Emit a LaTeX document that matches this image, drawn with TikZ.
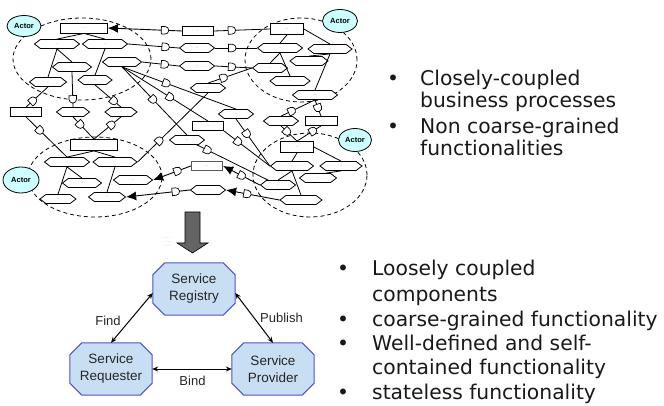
\documentclass[tikz,border=0pt]{standalone}
\usepackage{fontspec}
\setmainfont{Liberation Sans}
\newfontfamily\bulletfont{DejaVu Sans}
\usetikzlibrary{shapes.geometric,shapes.symbols,shapes.misc,arrows.meta,backgrounds,calc}
\definecolor{actorfill}{RGB}{204,255,255}
\definecolor{octfill}{RGB}{200,222,242}
\definecolor{octline}{RGB}{80,80,210}
\definecolor{blockgray}{RGB}{100,100,100}
\newcommand{\octoframe}[1]{%
  \filldraw[fill=octfill,draw=octline,line width=1pt]
    ([xshift=12pt]#1.north west) -- ([xshift=-12pt]#1.north east) --
    ([yshift=-12pt]#1.north east) -- ([yshift=12pt]#1.south east) --
    ([xshift=-12pt]#1.south east) -- ([xshift=12pt]#1.south west) --
    ([yshift=12pt]#1.south west) -- ([yshift=-12pt]#1.north west) -- cycle;}
\begin{document}
\begin{tikzpicture}[x=1pt,y=-1pt,
  every node/.style={inner sep=0pt},
  lnk/.style={line width=0.8pt},
  arr/.style={line width=0.9pt,-{Latex[length=10pt,width=9pt]}},
  hexb/.style={signal, signal to=east and west, signal pointer angle=75, draw, fill=white,
    line width=0.8pt, minimum height=9, minimum width=#1,
    font=\fontsize{3.5}{4}\selectfont, text=gray},
  boxb/.style={rectangle, draw, fill=white, line width=0.8pt, minimum height=10,
    minimum width=#1, font=\fontsize{3.5}{4}\selectfont, text=gray},
  dsym/.style={rounded rectangle, rounded rectangle left arc=none, draw, fill=white,
    line width=0.7pt, minimum width=7, minimum height=7.5, sloped},
  actor/.style={ellipse, draw, fill=actorfill, line width=0.8pt,
    font=\bfseries\fontsize{7.5}{8}\selectfont},
  clus/.style={line width=0.8pt, dash pattern=on 4pt off 3pt},
  octnode/.style={minimum width=82, minimum height=52, align=center,
    font=\fontsize{13.5}{17}\selectfont, text=black!85},
  twoarr/.style={line width=1pt,{Stealth[length=6pt,width=5pt]}-{Stealth[length=6pt,width=5pt]}},
  lbl/.style={font=\fontsize{13}{15}\selectfont, text=black!85},
  bul/.style={font=\bulletfont\fontsize{20.3}{22}\selectfont, text=black!90, anchor=base west},
  dot/.style={font=\bulletfont\fontsize{20.3}{22}\selectfont, text=black!90, anchor=base}
]
\useasboundingbox (0,0) rectangle (664,406);

% dashed clusters
\draw[clus] (82,59) ellipse [x radius=69pt, y radius=41pt];
\draw[clus] (301,60) ellipse [x radius=56pt, y radius=42pt];
\draw[clus] (95,177) ellipse [x radius=67pt, y radius=40pt];
\draw[clus] (310,175) ellipse [x radius=57pt, y radius=42pt];

% actors
\node[actor, minimum width=34, minimum height=21] (actTL) at (24,26) {Actor};
\node[actor, minimum width=35, minimum height=23] (actTR) at (340,21) {Actor};
\node[actor, minimum width=36, minimum height=26] (actBL) at (21,180) {Actor};
\node[actor, minimum width=33, minimum height=23] (actBR) at (355,140) {Actor};

% top-left cluster
\node[boxb=47] (rTL) at (84,28) {...};
\node[hexb=45] (h1) at (57,44) {...};
\node[hexb=45] (h2) at (105,44) {...};
\node[hexb=39] (h3) at (72,67) {...};
\node[hexb=39] (h4) at (122,62) {...};
\node[hexb=37] (h5) at (48,82) {...};
\node[hexb=34] (h6) at (95,80) {...};

% middle-left row
\node[boxb=31, minimum height=9] (rM1) at (26,112) {...};
\node[hexb=33] (hM2) at (73,112) {...};
\node[hexb=32] (hM3) at (121,112) {...};

% top rows
\node[boxb=31, minimum height=9] (rT) at (198,31) {...};
\node[hexb=35] (hR2) at (197,48) {...};
\node[hexb=35] (hR3) at (197,66) {...};

% centre
\node[hexb=35] (hC1) at (208,88) {...};
\node[hexb=35] (hC2) at (236,114) {...};
\node[boxb=31, minimum height=9] (rC3) at (208,126) {...};
\node[hexb=35] (hC4) at (187,140) {...};
\node[boxb=31, minimum height=9, draw=black!65, line width=1.3pt] (rC5) at (207,166) {...};
\node[hexb=35] (hC6) at (208,190) {...};

% top-right cluster
\node[boxb=33, minimum height=11] (rTR) at (287,29) {...};
\node[hexb=45] (hA) at (280,48) {...};
\node[hexb=44] (hB) at (330,49) {...};
\node[hexb=38] (hC) at (309,61) {...};
\node[hexb=35] (hD) at (270,68) {...};
\node[hexb=40] (hE) at (290,81) {...};
\node[hexb=45] (hF) at (315,95) {...};

% middle-right row
\node[hexb=35] (hM4) at (281,121) {...};
\node[boxb=32, minimum height=9] (rM5) at (321,121) {...};

% bottom-right cluster
\node[boxb=33, minimum height=11] (rBR) at (297,147) {...};
\node[hexb=43] (hP) at (292,166) {...};
\node[hexb=42] (hQ) at (341,166) {...};
\node[hexb=37] (hR) at (318,178) {...};
\node[hexb=35] (hS) at (278,185) {...};
\node[hexb=42] (hT) at (301,200) {...};

% bottom-left cluster
\node[boxb=47, minimum height=11] (rBL) at (94,145) {...};
\node[hexb=45] (hBL1) at (67,162) {...};
\node[hexb=44] (hBL2) at (115,162) {...};
\node[hexb=39] (hBL3) at (82,183) {...};
\node[hexb=39] (hBL4) at (133,180) {...};
\node[hexb=36] (hBL5) at (58,199) {...};
\node[hexb=37] (hBL6) at (107,197) {...};

% cluster-internal links
\draw[lnk] (rTL.south) -- (h1.north);
\draw[lnk] (rTL.south) -- (h2.north);
\draw[lnk] (h1.south) -- (h5.north);
\draw[lnk] (h1.south) -- (h3.north);
\draw[lnk] (h2.south) -- (h6.north);

\draw[lnk] (rTR.south) -- (hA.north);
\draw[lnk] (rTR.east) -- (hB.north);
\draw[lnk] (hA.south) -- (hD.north);
\draw[lnk] (hA.south) -- (hE.north);
\draw[lnk] (hB.south) -- (hC.north);
\draw[lnk] (hB.south) -- (hF.north);

\draw[lnk] (rBR.south) -- (hP.north);
\draw[lnk] (rBR.east) -- (hQ.north);
\draw[lnk] (hP.south) -- (hT.north);
\draw[lnk] (hP.south) -- (hS.north);
\draw[lnk] (hQ.south) -- ([xshift=8pt]hR.north);

\draw[lnk] (rBL.south) -- (hBL1.north);
\draw[lnk] (rBL.south) -- (hBL2.north);
\draw[lnk] (hBL1.south) -- (hBL3.north);
\draw[lnk] (hBL1.south) -- (hBL5.north);
\draw[lnk] (hBL2.south) -- (hBL6.north);

% links with interface symbols
\draw[lnk] (h5.south) -- node[dsym,pos=0.68] (d6) {} (rM1.north);
\draw[lnk] (h3.south) -- node[dsym,pos=0.78] (d7) {} (hM2.north);
\draw[lnk] (h6.south) -- node[dsym,pos=0.73] (d8) {} (hM3.north);
\draw[lnk] (rM1.south) -- node[dsym,pos=0.34] (d9) {} (hBL1.north);
\draw[lnk] (hM2.south) -- node[dsym,pos=0.35] (d10) {} (rBL.north);
\draw[lnk] (hM3.south) -- node[dsym,pos=0.35] (d11) {} (rBL.north);

\draw[arr] (rT.west) -- node[dsym,pos=0.23] (d12) {} (rTL.east);
\draw[lnk] (rTR.west) -- node[dsym,pos=0.68] (d13) {} (rT.east);
\draw[lnk] (h2.east) -- node[dsym,pos=0.74] (d14) {} (hR2.west);
\draw[lnk] (hR2.east) -- node[dsym,pos=0.41] (d15) {} (hA.west);
\draw[lnk] (h4.east) -- node[dsym,pos=0.62] (d16) {} (hR3.west);
\draw[lnk] (hR3.east) -- node[dsym,pos=0.46] (d17) {} (hD.west);

\draw[lnk] (hF.south) -- node[dsym,pos=0.68] (d24) {} (hM4.north);
\draw[lnk] (hF.south) -- node[dsym,pos=0.5] (d25) {} (rM5.north);
\draw[lnk] (hM4.south) -- node[dsym,pos=0.38] (d26) {} (rBR.north);
\draw[lnk] (rM5.south) -- node[dsym,pos=0.33] (d27) {} (rBR.north);

\draw[arr] (hS.west) -- node[dsym,pos=0.49] (d38) {} (rC5.east);
\draw[arr] (rC5.west) -- node[dsym,pos=0.35] (d39) {} (hBL4.east);
\draw[arr] (hT.west) -- node[dsym,pos=0.6] (d40) {} (hC6.east);
\draw[arr] (hC6.west) -- node[dsym,pos=0.22] (d41) {} (hBL6.east);

\draw[lnk] (h4.south) -- node[dsym,pos=0.39] (d42) {} (hC2.north);
\draw[lnk] (h4.south) -- node[dsym,pos=0.56] (d43) {} (rC3.north);
\draw[lnk] (h4.south) -- node[dsym,pos=0.48] (d44) {} (hC4.north);
\draw[lnk] (hD.west) -- node[dsym,pos=0.64] (d45) {} (hC1.north);
\draw[lnk] (hC1.south) -- node[dsym,pos=0.69] (d46) {} (hBL2.east);
\draw[lnk] (hC2.south) -- node[dsym,pos=0.32] (d47) {} (hP.west);
\draw[lnk] (rC3.south east) -- node[dsym,pos=0.31] (d48) {} (hP.west);
\draw[lnk] (hC4) -- node[dsym,pos=0.15] (d49) {} (hS);

% block arrow
\filldraw[fill=blockgray, draw=black, line width=0.6pt]
  (185,212) -- (200,212) -- (200,243) -- (208,243) -- (192.5,253) -- (177,243) -- (185,243) -- cycle;
\node[text=black!35, font=\fontsize{5}{5}\selectfont, align=left] (faint) at (167,242) {.\,.\,.\,.\\[-1pt]\;.\,.\,.\,.\\[-1pt]\;\;.\,.\,.};

% SOA triangle
\node[octnode] (reg) at (194,289) {Service\\Registry};
\node[octnode] (req) at (111,369) {Service\\Requester};
\node[octnode] (prov) at (273,369) {Service\\Provider};
\begin{scope}[on background layer]
\octoframe{reg}
\octoframe{req}
\octoframe{prov}
\end{scope}
\draw[twoarr] ([yshift=-4pt]reg.west) -- (req.north);
\draw[twoarr] ([yshift=-4pt]reg.east) -- (prov.north);
\draw[twoarr] (req.east) -- (prov.west);
\node[lbl] (lfind) at (108,321) {Find};
\node[lbl] (lpub) at (281.5,317.5) {Publish};
\node[lbl] (lbind) at (192.5,381) {Bind};

% bullet lists
\node[dot] (k1) at (393,86) {•};
\node[bul] (t1) at (420,86) {Closely-coupled};
\node[bul] (t2) at (420,108) {business processes};
\node[dot] (k2) at (393,134) {•};
\node[bul] (t3) at (420,134) {Non coarse-grained};
\node[bul] (t4) at (420,156) {functionalities};

\node[dot] (k3) at (343,276) {•};
\node[bul] (u1) at (372,276) {Loosely coupled};
\node[bul] (u2) at (372,301) {components};
\node[dot] (k4) at (343,326) {•};
\node[bul] (u3) at (372,326) {coarse-grained functionality};
\node[dot] (k5) at (343,350) {•};
\node[bul] (u4) at (372,350) {Well-defined and self-};
\node[bul] (u5) at (372,374) {contained functionality};
\node[dot] (k6) at (343,399) {•};
\node[bul] (u6) at (372,399) {stateless functionality};
\end{tikzpicture}
\end{document}
